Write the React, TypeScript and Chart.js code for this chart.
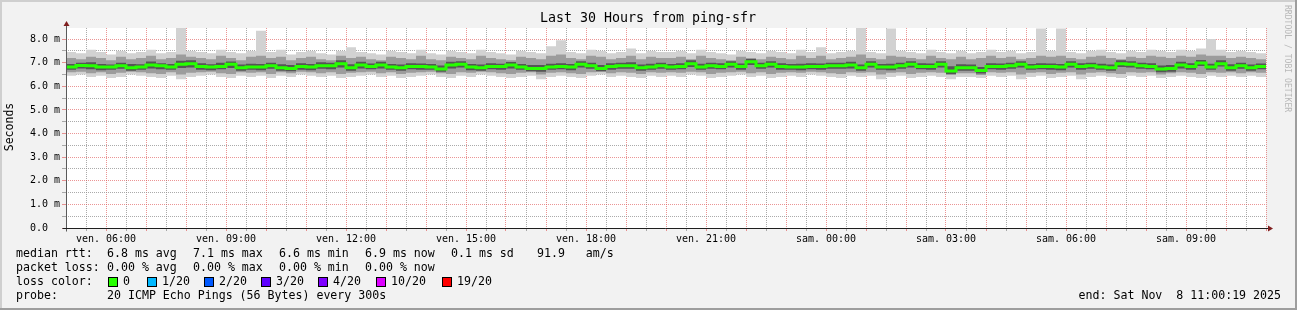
import React, { useEffect, useRef } from 'react';
import { Chart, registerables } from 'chart.js';

Chart.register(...registerables);

const CANVAS_W = 1297;
const CANVAS_H = 310;
const MONO = '"DejaVu Sans Mono", monospace';

const TITLE = 'Last 30 Hours from ping-sfr';
const Y_TITLE = 'Seconds';
const WATERMARK = 'RRDTOOL / TOBI OETIKER';

const SPAN_HOURS = 30;
const STEP_HOURS = 0.25;
const Y_MAX = 8.47;

const xLabelHours = [1, 4, 7, 10, 13, 16, 19, 22, 25, 28];
const xLabels = ['ven. 06:00', 'ven. 09:00', 'ven. 12:00', 'ven. 15:00', 'ven. 18:00', 'ven. 21:00', 'sam. 00:00', 'sam. 03:00', 'sam. 06:00', 'sam. 09:00'];
const yLabelValues = [0, 1, 2, 3, 4, 5, 6, 7, 8];
const yLabels = ['0.0', '1.0 m', '2.0 m', '3.0 m', '4.0 m', '5.0 m', '6.0 m', '7.0 m', '8.0 m'];

// median RTT (ms), one value per 15 minutes
const median = [
  6.82, 6.88, 6.87, 6.82, 6.82, 6.87, 6.79, 6.82, 6.90, 6.87, 6.82, 6.93, 6.96, 6.84, 6.82, 6.84, 6.93, 6.79, 6.82, 6.82, 6.87, 6.79, 6.76, 6.84, 6.82, 6.87, 6.87, 6.96, 6.79, 6.90,
  6.84, 6.90, 6.82, 6.79, 6.84, 6.84, 6.82, 6.73, 6.90, 6.93, 6.82, 6.79, 6.84, 6.84, 6.90, 6.82, 6.76, 6.76, 6.82, 6.84, 6.82, 6.93, 6.87, 6.76, 6.84, 6.87, 6.87, 6.79, 6.82, 6.87,
  6.82, 6.84, 6.96, 6.82, 6.87, 6.84, 6.93, 6.84, 7.04, 6.87, 6.93, 6.84, 6.82, 6.82, 6.84, 6.84, 6.87, 6.87, 6.90, 6.79, 6.93, 6.82, 6.82, 6.87, 6.93, 6.84, 6.84, 6.93, 6.65, 6.79,
  6.79, 6.67, 6.84, 6.84, 6.87, 6.93, 6.82, 6.84, 6.84, 6.82, 6.93, 6.84, 6.87, 6.82, 6.79, 6.96, 6.93, 6.87, 6.84, 6.73, 6.76, 6.90, 6.84, 6.99, 6.82, 6.96, 6.79, 6.87, 6.79, 6.84,
];

// outer smoke (lightest) upper / lower bounds
const smokeHi1 = [
  7.45, 7.4, 7.55, 7.45, 7.35, 7.5, 7.4, 7.45, 7.55, 7.4, 7.45, 8.55, 7.5, 7.45, 7.4, 7.55, 7.45, 7.4, 7.5, 8.35, 7.45, 7.55, 7.35, 7.45, 7.5, 7.4, 7.35, 7.5, 7.65, 7.45,
  7.4, 7.35, 7.5, 7.45, 7.4, 7.55, 7.4, 7.35, 7.5, 7.45, 7.4, 7.55, 7.45, 7.4, 7.35, 7.5, 7.45, 7.4, 7.7, 7.95, 7.45, 7.4, 7.55, 7.5, 7.4, 7.45, 7.6, 7.4, 7.5, 7.45,
  7.45, 7.5, 7.4, 7.55, 7.45, 7.4, 7.35, 7.5, 7.45, 7.4, 7.5, 7.45, 7.4, 7.55, 7.45, 7.65, 7.4, 7.45, 7.5, 8.55, 7.45, 7.4, 8.45, 7.5, 7.45, 7.4, 7.55, 7.45, 7.4, 7.5,
  7.4, 7.45, 7.55, 7.45, 7.5, 7.4, 7.45, 8.45, 7.5, 8.45, 7.45, 7.4, 7.5, 7.55, 7.45, 7.4, 7.5, 7.45, 7.55, 7.5, 7.45, 7.55, 7.5, 7.6, 8.0, 7.55, 7.45, 7.5, 7.45, 7.4,
];
const smokeLo1 = [
  6.45, 6.5, 6.4, 6.45, 6.35, 6.4, 6.5, 6.45, 6.4, 6.35, 6.45, 6.3, 6.4, 6.45, 6.5, 6.4, 6.35, 6.45, 6.4, 6.45, 6.35, 6.45, 6.4, 6.5, 6.45, 6.4, 6.45, 6.35, 6.4, 6.45,
  6.5, 6.4, 6.45, 6.35, 6.4, 6.45, 6.5, 6.4, 6.35, 6.45, 6.4, 6.5, 6.45, 6.4, 6.35, 6.4, 6.45, 6.3, 6.4, 6.45, 6.4, 6.35, 6.45, 6.5, 6.4, 6.45, 6.4, 6.35, 6.45, 6.4,
  6.45, 6.4, 6.5, 6.45, 6.35, 6.4, 6.45, 6.5, 6.4, 6.45, 6.35, 6.4, 6.45, 6.4, 6.5, 6.45, 6.4, 6.35, 6.45, 6.4, 6.45, 6.3, 6.4, 6.45, 6.35, 6.4, 6.45, 6.4, 6.3, 6.4,
  6.4, 6.35, 6.45, 6.4, 6.45, 6.3, 6.4, 6.45, 6.35, 6.4, 6.45, 6.3, 6.4, 6.45, 6.4, 6.35, 6.45, 6.4, 6.45, 6.35, 6.4, 6.45, 6.4, 6.35, 6.45, 6.4, 6.45, 6.4, 6.45, 6.4,
];

// middle smoke upper / lower bounds
const smokeHi2 = [
  7.2, 7.15, 7.25, 7.2, 7.1, 7.25, 7.15, 7.2, 7.3, 7.15, 7.2, 7.35, 7.25, 7.2, 7.15, 7.3, 7.2, 7.1, 7.25, 7.3, 7.2, 7.25, 7.1, 7.2, 7.25, 7.15, 7.1, 7.3, 7.2, 7.25,
  7.15, 7.1, 7.25, 7.2, 7.15, 7.3, 7.15, 7.1, 7.25, 7.2, 7.15, 7.3, 7.2, 7.15, 7.1, 7.25, 7.2, 7.15, 7.3, 7.35, 7.2, 7.15, 7.3, 7.25, 7.15, 7.2, 7.3, 7.15, 7.25, 7.2,
  7.2, 7.25, 7.15, 7.3, 7.2, 7.15, 7.1, 7.25, 7.2, 7.15, 7.25, 7.2, 7.15, 7.3, 7.2, 7.3, 7.15, 7.2, 7.25, 7.35, 7.2, 7.15, 7.3, 7.25, 7.2, 7.15, 7.3, 7.2, 7.15, 7.25,
  7.15, 7.2, 7.3, 7.2, 7.25, 7.15, 7.2, 7.3, 7.25, 7.3, 7.2, 7.15, 7.25, 7.3, 7.2, 7.15, 7.25, 7.2, 7.3, 7.25, 7.2, 7.3, 7.25, 7.35, 7.3, 7.3, 7.2, 7.25, 7.2, 7.15,
];
const smokeLo2 = [
  6.6, 6.62, 6.55, 6.6, 6.52, 6.58, 6.62, 6.6, 6.55, 6.52, 6.6, 6.5, 6.58, 6.6, 6.62, 6.55, 6.52, 6.6, 6.58, 6.6, 6.52, 6.6, 6.55, 6.62, 6.6, 6.55, 6.6, 6.52, 6.58, 6.6,
  6.62, 6.55, 6.6, 6.52, 6.58, 6.6, 6.62, 6.55, 6.52, 6.6, 6.58, 6.62, 6.6, 6.55, 6.52, 6.58, 6.6, 6.5, 6.58, 6.6, 6.55, 6.52, 6.6, 6.62, 6.55, 6.6, 6.58, 6.52, 6.6, 6.58,
  6.6, 6.58, 6.62, 6.6, 6.52, 6.58, 6.6, 6.62, 6.55, 6.6, 6.52, 6.58, 6.6, 6.58, 6.62, 6.6, 6.55, 6.52, 6.6, 6.58, 6.6, 6.5, 6.58, 6.6, 6.52, 6.58, 6.6, 6.58, 6.48, 6.55,
  6.55, 6.48, 6.6, 6.58, 6.6, 6.5, 6.58, 6.6, 6.52, 6.58, 6.6, 6.5, 6.58, 6.6, 6.55, 6.52, 6.6, 6.58, 6.6, 6.5, 6.55, 6.6, 6.58, 6.52, 6.6, 6.58, 6.6, 6.55, 6.6, 6.58,
];

// inner (darkest) smoke upper / lower bounds
const smokeHi3 = [
  6.95, 7.0, 7.02, 6.95, 6.92, 7.0, 6.95, 6.94, 7.05, 6.98, 6.95, 7.08, 7.1, 6.98, 6.94, 7.0, 7.05, 6.92, 6.96, 6.95, 7.0, 6.94, 6.9, 6.98, 6.95, 7.02, 7.0, 7.1, 6.94, 7.04,
  6.97, 7.04, 6.95, 6.92, 6.98, 6.97, 6.95, 6.88, 7.04, 7.06, 6.95, 6.92, 6.98, 6.96, 7.03, 6.95, 6.9, 6.9, 6.96, 6.98, 6.95, 7.06, 7.0, 6.9, 6.98, 7.0, 7.02, 6.92, 6.96, 7.0,
  6.95, 6.98, 7.1, 6.96, 7.0, 6.98, 7.06, 6.97, 7.16, 7.0, 7.06, 6.98, 6.95, 6.96, 6.98, 6.97, 7.0, 7.0, 7.04, 6.92, 7.06, 6.95, 6.96, 7.0, 7.06, 6.98, 6.97, 7.06, 6.85, 6.94,
  6.92, 6.82, 6.98, 6.97, 7.0, 7.06, 6.95, 6.98, 6.97, 6.95, 7.06, 6.98, 7.0, 6.96, 6.92, 7.1, 7.06, 7.0, 6.98, 6.88, 6.9, 7.04, 6.98, 7.12, 6.96, 7.1, 6.93, 7.0, 6.92, 6.97,
];
const smokeLo3 = [
  6.7, 6.75, 6.72, 6.68, 6.7, 6.74, 6.66, 6.7, 6.76, 6.72, 6.7, 6.78, 6.8, 6.7, 6.68, 6.72, 6.78, 6.66, 6.7, 6.68, 6.74, 6.66, 6.64, 6.7, 6.68, 6.74, 6.72, 6.8, 6.66, 6.76,
  6.72, 6.76, 6.7, 6.66, 6.72, 6.7, 6.7, 6.62, 6.76, 6.8, 6.68, 6.66, 6.72, 6.7, 6.76, 6.7, 6.64, 6.62, 6.7, 6.72, 6.68, 6.8, 6.74, 6.64, 6.7, 6.74, 6.74, 6.66, 6.7, 6.74,
  6.7, 6.72, 6.82, 6.7, 6.74, 6.72, 6.8, 6.7, 6.9, 6.74, 6.8, 6.7, 6.7, 6.68, 6.72, 6.7, 6.74, 6.74, 6.76, 6.66, 6.8, 6.7, 6.68, 6.74, 6.8, 6.72, 6.7, 6.8, 6.52, 6.66,
  6.66, 6.54, 6.72, 6.7, 6.74, 6.8, 6.7, 6.72, 6.7, 6.68, 6.8, 6.7, 6.74, 6.7, 6.66, 6.82, 6.8, 6.74, 6.72, 6.6, 6.62, 6.76, 6.7, 6.86, 6.7, 6.84, 6.66, 6.74, 6.66, 6.72,
];

const rttHeader = 'median rtt:';
const rttItems = ['6.8 ms avg', '7.1 ms max', '6.6 ms min', '6.9 ms now', '0.1 ms sd', '91.9   am/s'];
const lossHeader = 'packet loss:';
const lossItems = ['0.00 % avg', '0.00 % max', '0.00 % min', '0.00 % now'];
const colorHeader = 'loss color:';
const lossColorLabels = ['0', '1/20', '2/20', '3/20', '4/20', '10/20', '19/20'];
const lossColors = ['#26ff00', '#00b8ff', '#0059ff', '#5e00ff', '#7e00ff', '#dd00ff', '#ff0000'];
const probeHeader = 'probe:';
const probeText = '20 ICMP Echo Pings (56 Bytes) every 300s';
const endText = 'end: Sat Nov  8 11:00:19 2025';

// layout positions for legend (pixels)
const LEGEND_X0 = 16;
const LEGEND_X1 = 107;
const LEGEND_COL_STEP = 86;
const LEGEND_ROWS_Y = [254, 268, 282, 296];
const lossBoxX = [108, 147, 204, 261, 318, 376, 442];

const toSteps = (arr: number[]) => {
  const pts = arr.map((v, i) => ({ x: i * STEP_HOURS, y: v }));
  pts.push({ x: SPAN_HOURS, y: arr[arr.length - 1] });
  return pts;
};

const MAJOR_GRID = 'rgba(222,79,79,0.6)';
const MINOR_GRID = 'rgba(143,143,143,0.75)';

const decorPlugin = {
  id: 'rrdDecor',
  beforeDraw(chart: any) {
    const { ctx, chartArea } = chart;
    ctx.save();
    ctx.fillStyle = '#f2f2f2';
    ctx.fillRect(0, 0, CANVAS_W, CANVAS_H);
    ctx.fillStyle = '#ffffff';
    ctx.fillRect(chartArea.left, chartArea.top, chartArea.right - chartArea.left, chartArea.bottom - chartArea.top);
    ctx.restore();
  },
  afterDraw(chart: any) {
    const { ctx, chartArea } = chart;
    const xs = chart.scales.x;
    const ys = chart.scales.y;
    const x0 = Math.round(xs.getPixelForValue(0)) + 0.5;
    const y0 = Math.round(ys.getPixelForValue(0)) + 0.5;
    ctx.save();

    // axes
    ctx.lineWidth = 1;
    ctx.strokeStyle = '#5a5a5a';
    ctx.beginPath();
    ctx.moveTo(x0, y0 + 3);
    ctx.lineTo(x0, chartArea.top - 3);
    ctx.stroke();
    ctx.strokeStyle = '#1f1f1f';
    ctx.beginPath();
    ctx.moveTo(x0 - 4, y0);
    ctx.lineTo(chartArea.right + 3, y0);
    ctx.stroke();

    // arrows
    ctx.fillStyle = '#801f1f';
    ctx.beginPath();
    ctx.moveTo(x0 - 3, chartArea.top - 2);
    ctx.lineTo(x0 + 3, chartArea.top - 2);
    ctx.lineTo(x0, chartArea.top - 7);
    ctx.closePath();
    ctx.fill();
    ctx.beginPath();
    ctx.moveTo(chartArea.right + 2, y0 - 3);
    ctx.lineTo(chartArea.right + 2, y0 + 3);
    ctx.lineTo(chartArea.right + 7, y0);
    ctx.closePath();
    ctx.fill();

    // title
    ctx.fillStyle = '#000';
    ctx.font = `13.3px ${MONO}`;
    ctx.textAlign = 'center';
    ctx.textBaseline = 'middle';
    ctx.fillText(TITLE, 648, 19);

    // y title
    ctx.save();
    ctx.translate(10, 127);
    ctx.rotate(-Math.PI / 2);
    ctx.font = `11.5px ${MONO}`;
    ctx.fillText(Y_TITLE, 0, 0);
    ctx.restore();

    // watermark
    ctx.save();
    ctx.translate(1287, 5);
    ctx.rotate(Math.PI / 2);
    ctx.font = `8.1px ${MONO}`;
    ctx.fillStyle = '#b8b8b8';
    ctx.textAlign = 'left';
    ctx.fillText(WATERMARK, 0, 0);
    ctx.restore();

    // legend
    ctx.font = `11.6px ${MONO}`;
    ctx.textAlign = 'left';
    ctx.fillStyle = '#000';
    const [r1, r2, r3, r4] = LEGEND_ROWS_Y;
    ctx.fillText(rttHeader, LEGEND_X0, r1);
    rttItems.forEach((t, i) => ctx.fillText(t, LEGEND_X1 + i * LEGEND_COL_STEP, r1));
    ctx.fillText(lossHeader, LEGEND_X0, r2);
    lossItems.forEach((t, i) => ctx.fillText(t, LEGEND_X1 + i * LEGEND_COL_STEP, r2));
    ctx.fillText(colorHeader, LEGEND_X0, r3);
    lossColorLabels.forEach((t, i) => {
      const bx = lossBoxX[i];
      ctx.fillStyle = lossColors[i];
      ctx.fillRect(bx + 0.5, r3 - 4.5, 9, 9);
      ctx.strokeStyle = '#000';
      ctx.lineWidth = 1;
      ctx.strokeRect(bx + 0.5, r3 - 4.5, 9, 9);
      ctx.fillStyle = '#000';
      ctx.fillText(t, bx + 15, r3);
    });
    ctx.fillText(probeHeader, LEGEND_X0, r4);
    ctx.fillText(probeText, LEGEND_X1, r4);
    ctx.textAlign = 'right';
    ctx.fillText(endText, 1281, r4);

    // frame
    ctx.fillStyle = '#cfcfcf';
    ctx.fillRect(0, 0, CANVAS_W, 2);
    ctx.fillRect(0, 0, 2, CANVAS_H);
    ctx.fillStyle = '#9e9e9e';
    ctx.fillRect(0, CANVAS_H - 2, CANVAS_W, 2);
    ctx.fillRect(CANVAS_W - 2, 0, 2, CANVAS_H);
    ctx.restore();
  },
};

const band = (data: number[], fill: any, color: string, order: number) => ({
  data: toSteps(data),
  fill,
  backgroundColor: color,
  borderColor: 'rgba(0,0,0,0)',
  borderWidth: 0,
  pointRadius: 0,
  stepped: true,
  order,
});

export default function App() {
  const canvasRef = useRef<HTMLCanvasElement | null>(null);

  useEffect(() => {
    if (!canvasRef.current) return;
    const gridColor = (ctx: any) =>
      ctx.tick && Number.isInteger(ctx.tick.value) ? MAJOR_GRID : MINOR_GRID;

    const chart = new Chart(canvasRef.current, {
      type: 'line',
      data: {
        datasets: [
          band(smokeHi1, '+1', '#d2d2d2', 3),
          band(smokeLo1, false, '#d2d2d2', 3),
          band(smokeHi2, '+1', '#9c9c9c', 2),
          band(smokeLo2, false, '#9c9c9c', 2),
          band(smokeHi3, '+1', '#555555', 1),
          band(smokeLo3, false, '#555555', 1),
          {
            data: toSteps(median),
            fill: false,
            borderColor: '#26ff00',
            borderWidth: 3,
            pointRadius: 0,
            stepped: true,
            order: 0,
          } as any,
        ],
      },
      options: {
        responsive: false,
        animation: false,
        devicePixelRatio: 1,
        layout: { padding: { left: 30, top: 28, right: 31, bottom: 0 } },
        plugins: { legend: { display: false }, tooltip: { enabled: false }, title: { display: false } },
        scales: {
          x: {
            type: 'linear',
            min: 0,
            max: SPAN_HOURS,
            afterBuildTicks: (s: any) => {
              const t: any[] = [];
              for (let h = 0; h <= SPAN_HOURS; h += 0.5) t.push({ value: h });
              s.ticks = t;
            },
            afterFit: (s: any) => {
              s.height = 82;
            },
            ticks: {
              autoSkip: false,
              maxRotation: 0,
              minRotation: 0,
              padding: 2,
              color: '#000',
              font: { family: MONO, size: 10 },
              callback: (v: any) => {
                const i = xLabelHours.indexOf(Number(v));
                return i >= 0 ? xLabels[i] : '';
              },
            },
            grid: { color: gridColor, tickColor: gridColor, lineWidth: 1, tickLength: 3 },
            border: { display: false, dash: [1, 1] },
          },
          y: {
            type: 'linear',
            min: 0,
            max: Y_MAX,
            afterBuildTicks: (s: any) => {
              const t: any[] = [];
              for (let v = 0; v <= 8; v += 0.5) t.push({ value: v });
              s.ticks = t;
            },
            afterFit: (s: any) => {
              s.width = 36;
            },
            ticks: {
              autoSkip: false,
              crossAlign: 'far',
              padding: 2,
              color: '#000',
              font: { family: MONO, size: 10 },
              callback: (v: any) => {
                const i = yLabelValues.indexOf(Number(v));
                return i >= 0 ? yLabels[i] : '';
              },
            },
            grid: { color: gridColor, tickColor: gridColor, lineWidth: 1, tickLength: 4 },
            border: { display: false, dash: [1, 1] },
          },
        },
      } as any,
      plugins: [decorPlugin],
    });
    return () => chart.destroy();
  }, []);

  return (
    <div style={{ position: 'absolute', left: 0, top: 0, width: CANVAS_W, height: CANVAS_H }}>
      <canvas ref={canvasRef} width={CANVAS_W} height={CANVAS_H} style={{ display: 'block', width: CANVAS_W, height: CANVAS_H }} />
    </div>
  );
}
